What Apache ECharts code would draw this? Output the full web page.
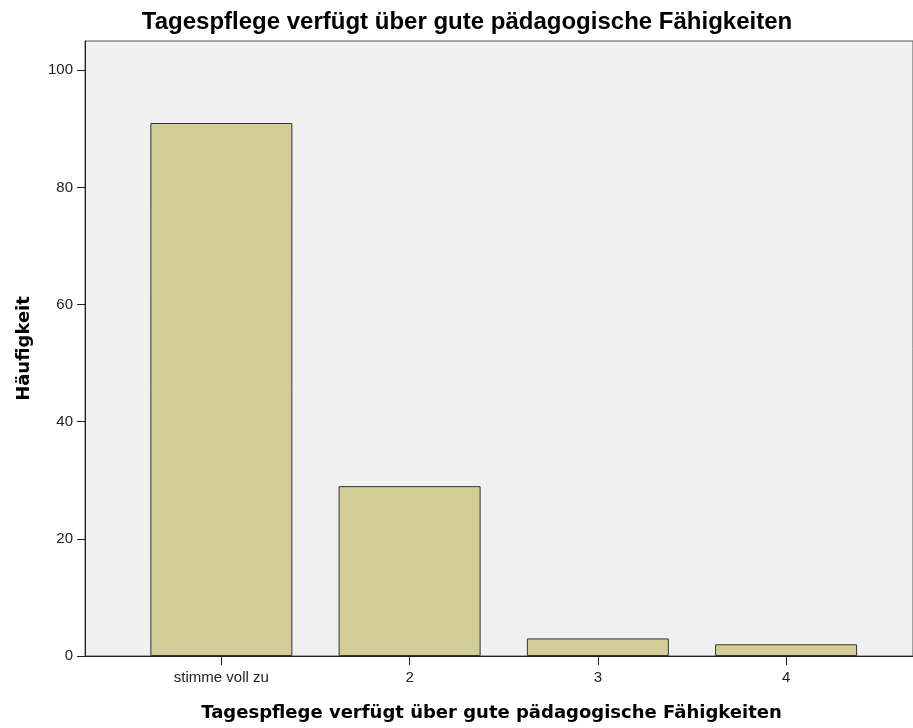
<!DOCTYPE html>
<html><head><meta charset="utf-8">
<script src="https://cdn.jsdelivr.net/npm/echarts@6/dist/echarts.min.js"></script>
<style>html,body{margin:0;padding:0;background:#fff}#c{width:913px;height:728px}</style>
</head><body><div id="c"></div>
<script>
const categories = ['stimme voll zu', '2', '3', '4'];
const positions = [1, 2, 3, 4];
const counts = [91, 29, 3, 2];
const yTicks = [0, 20, 40, 60, 80, 100];
const titleText = 'Tagespflege verfügt über gute pädagogische Fähigkeiten';
const xName = 'Tagespflege verfügt über gute pädagogische Fähigkeiten';
const yName = 'Häufigkeit';

const chart = echarts.init(document.getElementById('c'), null, {renderer: 'canvas'});
chart.setOption({
  animation: false,
  backgroundColor: '#ffffff',
  title: {
    text: titleText, left: 462, top: 5, textAlign: 'center',
    textStyle: {fontFamily: 'Liberation Sans', fontSize: 24, fontWeight: 'bold', color: '#000'}
  },
  grid: {
    left: 85, top: 41, width: 830, height: 615,
    show: true, backgroundColor: '#f0f0f0', borderColor: '#555', borderWidth: 1
  },
  xAxis: {
    type: 'value', min: 0.2756, max: 0.2756 + 830 / 188.7,
    splitLine: {show: false},
    axisLine: {show: true, lineStyle: {color: '#222', width: 1}},
    axisTick: {show: true, customValues: positions, length: 9, lineStyle: {color: '#222'}},
    axisLabel: {
      customValues: positions, margin: 14,
      formatter: v => categories[positions.indexOf(Math.round(v))] || '',
      fontFamily: 'Liberation Sans', fontSize: 15, color: '#222'
    },
    name: xName, nameLocation: 'middle', nameGap: 48,
    nameTextStyle: {fontFamily: 'DejaVu Sans', fontWeight: 'bold', fontSize: 18, color: '#000', padding: [0, 15, 0, 0]}
  },
  yAxis: {
    type: 'value', min: 0, max: 105,
    splitLine: {show: false},
    axisLine: {show: true, lineStyle: {color: '#222', width: 1}},
    axisTick: {show: true, customValues: yTicks, length: 8, lineStyle: {color: '#222'}},
    axisLabel: {customValues: yTicks, margin: 12, fontFamily: 'Liberation Sans', fontSize: 15, color: '#222'},
    name: yName, nameLocation: 'middle', nameGap: 52, nameRotate: 90,
    nameTextStyle: {fontFamily: 'DejaVu Sans', fontWeight: 'bold', fontSize: 18, color: '#000'}
  },
  series: [{
    type: 'bar',
    data: positions.map((p, i) => [p, counts[i]]),
    barWidth: 142,
    itemStyle: {color: '#d3ce97', borderColor: '#333', borderWidth: 1},
    emphasis: {disabled: true}
  }]
});
</script></body></html>
